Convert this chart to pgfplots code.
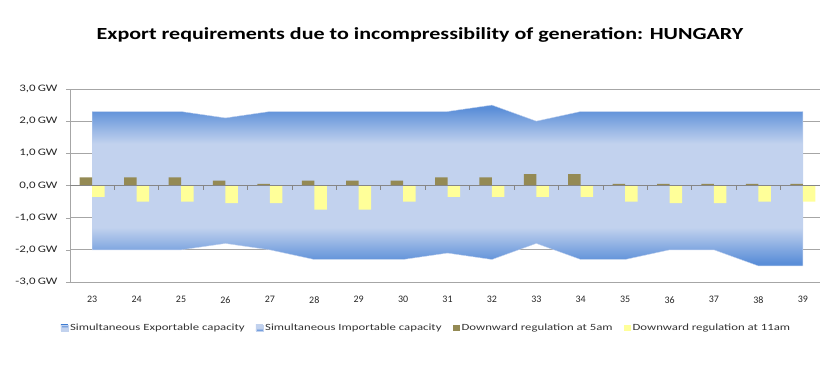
\documentclass[border=0pt]{standalone}
\usepackage{pgfplots}
\pgfplotsset{compat=1.18}
\usepackage{fontspec}
\setmainfont{Carlito}
\definecolor{darkblue}{HTML}{5A8ED8}
\definecolor{lightblue}{HTML}{C2D2EE}
\definecolor{olive}{HTML}{948A54}
\definecolor{lyellow}{HTML}{FFFF99}
\definecolor{gridgray}{HTML}{A6A6A6}
\definecolor{axgray}{HTML}{868686}
\pgfdeclareverticalshading{exportshade}{100bp}{color(0bp)=(lightblue); color(25bp)=(lightblue); color(51bp)=(lightblue); color(73bp)=(darkblue); color(100bp)=(darkblue)}
\pgfdeclareverticalshading{importshade}{100bp}{color(0bp)=(darkblue); color(27bp)=(darkblue); color(49bp)=(lightblue); color(75bp)=(lightblue); color(100bp)=(lightblue)}
\newcommand{\sx}[1]{\scalebox{1.35}[1]{#1}}
\begin{document}
\begin{tikzpicture}
\useasboundingbox (0,0) rectangle (820bp,369bp);
\node[font=\bfseries\fontsize{17}{20}\selectfont] at (420bp,334bp) {\scalebox{1.3}[1]{Export requirements due to incompressibility of generation: HUNGARY}};
\begin{axis}[
  at={(70bp,87bp)}, anchor=south west,
  width=755bp, height=193bp, scale only axis,
  xmin=22.5, xmax=39.5, ymin=-3, ymax=3,
  axis x line*=bottom, axis y line*=left,
  x axis line style={draw=gridgray, -},
  y axis line style={draw=gridgray, -},
  xtick={23,...,39}, xtick style={draw=none},
  ytick={-3,...,3},
  ytick style={draw=gridgray},
  tick align=outside, major tick length=4bp,
  ymajorgrids, grid style={gridgray, line width=0.7pt},
  /pgf/number format/assume math mode=true,
  yticklabel={\scalebox{1.3}[1]{\pgfmathprintnumber[fixed, fixed zerofill, precision=1, use comma]{\tick}\,GW}},
  tick label style={font=\fontsize{10}{11}\selectfont, text=black!85},
  xticklabel style={yshift=-7bp},
  yticklabel style={xshift=-5bp},
  legend columns=4,
  legend style={at={(0.472,-0.238)}, anchor=center, draw=none, fill=none,
    font=\fontsize{9.5}{11}\selectfont, text=black!80,
    /tikz/every even column/.append style={column sep=9bp}},
  legend image code/.code={\path[#1] (0bp,-3bp) rectangle (7bp,3bp);},
]
\addplot[draw=lightblue, line width=0.4pt, shading=exportshade] coordinates {
(23,2.3) (24,2.3) (25,2.3) (26,2.1) (27,2.3) (28,2.3) (29,2.3) (30,2.3) (31,2.3)
(32,2.5) (33,2.0) (34,2.3) (35,2.3) (36,2.3) (37,2.3) (38,2.3) (39,2.3)} \closedcycle;
\addlegendentry{\sx{Simultaneous Exportable capacity}}
\addplot[draw=lightblue, line width=0.4pt, shading=importshade] coordinates {
(23,-2.0) (24,-2.0) (25,-2.0) (26,-1.8) (27,-2.0) (28,-2.3) (29,-2.3) (30,-2.3) (31,-2.1)
(32,-2.3) (33,-1.8) (34,-2.3) (35,-2.3) (36,-2.0) (37,-2.0) (38,-2.5) (39,-2.5)} \closedcycle;
\addlegendentry{\sx{Simultaneous Importable capacity}}
\addplot[ybar, bar width=12.5bp, bar shift=-6.25bp, fill=olive, draw=none] coordinates {
(23,0.25) (24,0.25) (25,0.25) (26,0.15) (27,0.05) (28,0.15) (29,0.15) (30,0.15) (31,0.25)
(32,0.25) (33,0.35) (34,0.35) (35,0.05) (36,0.05) (37,0.05) (38,0.05) (39,0.05)};
\addlegendentry{\sx{Downward regulation at 5am}}
\addplot[ybar, bar width=12.5bp, bar shift=6.25bp, fill=lyellow, draw=none] coordinates {
(23,-0.35) (24,-0.5) (25,-0.5) (26,-0.55) (27,-0.55) (28,-0.75) (29,-0.75) (30,-0.5) (31,-0.35)
(32,-0.35) (33,-0.35) (34,-0.35) (35,-0.5) (36,-0.55) (37,-0.55) (38,-0.5) (39,-0.5)};
\addlegendentry{\sx{Downward regulation at 11am}}
\draw[axgray, line width=0.8pt] (axis cs:22.5,0) -- (axis cs:39.5,0);
\pgfplotsinvokeforeach{23.5,24.5,...,39.5}{
  \draw[axgray, line width=0.8pt] (axis cs:#1,0) -- ++(0pt,-4bp);
}
\end{axis}
\end{tikzpicture}
\end{document}
